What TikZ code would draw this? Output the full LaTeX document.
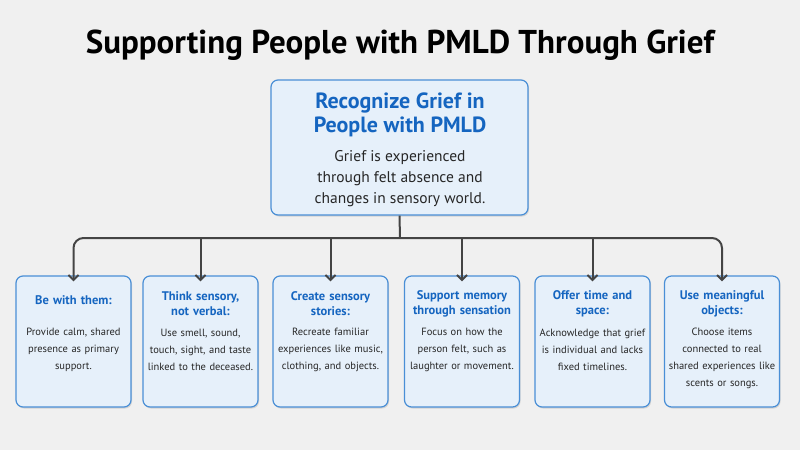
\documentclass[tikz,border=0pt]{standalone}
\usepackage{fontspec}
\setmainfont{PT Sans}
\usetikzlibrary{arrows.meta,shadows}
\definecolor{bg}{HTML}{F0F0F0}
\definecolor{boxfill}{HTML}{E6F0FA}
\definecolor{boxline}{HTML}{4A8FD6}
\definecolor{head}{HTML}{1565C0}
\definecolor{conn}{HTML}{444444}
\begin{document}
\begin{tikzpicture}[x=1pt,y=-1pt,
  card/.style={draw=boxline,line width=1.2pt,fill=boxfill,rounded corners=7pt,
    drop shadow={shadow xshift=1pt,shadow yshift=-1.5pt,opacity=0.25}},
  headtxt/.style={text=head,font=\bfseries\fontsize{12.5}{15}\selectfont,align=center,text width=110pt,inner sep=0pt},
  bodytxt/.style={text=black!85,font=\fontsize{10.5}{17}\selectfont,align=center,text width=112pt,inner sep=0pt},
  arr/.style={draw=conn,line width=2pt,-{Straight Barb[length=5pt,width=10pt]}}]
\fill[bg] (0,0) rectangle (800,450);
\useasboundingbox (0,0) rectangle (800,450);
\node[font=\bfseries\fontsize{33}{38}\selectfont] (title) at (400,45) {Supporting People with PMLD Through Grief};
\node[card,minimum width=257pt,minimum height=135pt] (main) at (399.5,147.5) {};
\node[text=head,font=\bfseries\fontsize{22}{24}\selectfont,align=center] (mh) at (400,115) {Recognize Grief in\\People with PMLD};
\node[font=\fontsize{15.5}{21}\selectfont,align=center,text=black!85] (mb) at (400,179) {Grief is experienced\\through felt absence and\\changes in sensory world.};
\foreach \n/\x/\h/\hy in {
 1/73.5/{Be with them:}/300,
 2/200.5/{Think sensory,\\not verbal:}/304,
 3/330.5/{Create sensory\\stories:}/304,
 4/462/{Support memory\\through sensation}/304,
 5/592.5/{Offer time and\\space:}/304,
 6/722/{Use meaningful\\objects:}/304}{
  \node[card,minimum width=115pt,minimum height=131pt] (b\n) at (\x,341.5) {};
  \node[headtxt] (h\n) at (\x,\hy) {\h};
}
\node[bodytxt] (t1) at (73.5,350) {Provide calm, shared\\presence as primary\\support.};
\node[bodytxt] (t2) at (200.5,350) {Use smell, sound,\\touch, sight, and taste\\linked to the deceased.};
\node[bodytxt] (t3) at (330.5,350) {Recreate familiar\\experiences like music,\\clothing, and objects.};
\node[bodytxt] (t4) at (462,350) {Focus on how the\\person felt, such as\\laughter or movement.};
\node[bodytxt] (t5) at (592.5,350) {Acknowledge that grief\\is individual and lacks\\fixed timelines.};
\node[bodytxt] (t6) at (722,358) {Choose items\\connected to real\\shared experiences like\\scents or songs.};
\coordinate (hub) at (400,238);
\draw[draw=conn,line width=2pt] (main.south) -- (hub);
\draw[arr,rounded corners=10pt] (hub) -| ([yshift=-6pt]b1.north);
\draw[arr,rounded corners=10pt] (hub) -| ([yshift=-6pt]b6.north);
\foreach \n in {2,3,4,5}{\draw[arr] (b\n.north |- hub) -- ([yshift=-6pt]b\n.north);}
\end{tikzpicture}
\end{document}
